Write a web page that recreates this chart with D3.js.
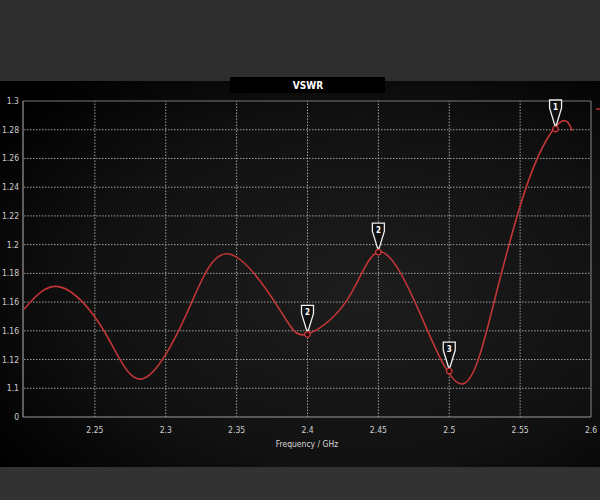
<!DOCTYPE html>
<html><head><meta charset="utf-8">
<script src="https://cdn.jsdelivr.net/npm/d3@7"></script>
<style>html,body{margin:0;padding:0;background:#2f2f2f;}svg{display:block;}</style>
</head><body>
<svg id="c" width="600" height="500"></svg>
<script>
const freq = [2.200,2.2254,2.257,2.2832,2.315,2.344,2.3805,2.399,2.428,2.451,2.479,2.5089,2.532,2.5568,2.578,2.5867];
const vswr = [1.155,1.1706,1.139,1.1065,1.1525,1.1936,1.1546,1.1375,1.1615,1.195,1.153,1.103,1.1615,1.247,1.285,1.2793];
const markerFreq = [2.4,2.45,2.5,2.575];
const markerVal = [1.1375,1.1948,1.112,1.2805];
const markerLabel = ["2","2","3","1"];
const xTicks = [2.25,2.3,2.35,2.4,2.45,2.5,2.55,2.6];
const xTickLabels = ["2.25","2.3","2.35","2.4","2.45","2.5","2.55","2.6"];
const yTicks = [1.08,1.10,1.12,1.14,1.16,1.18,1.20,1.22,1.24,1.26,1.28,1.30];
const yTickLabels = ["0","1.1","1.12","1.16","1.16","1.18","1.2","1.22","1.24","1.26","1.28","1.3"];

const svg = d3.select("#c");
const defs = svg.append("defs");
const rg = defs.append("radialGradient").attr("id","bg").attr("cx","0.6").attr("cy","0.55").attr("r","0.75");
rg.append("stop").attr("offset","0").attr("stop-color","#1d1d1d");
rg.append("stop").attr("offset","0.6").attr("stop-color","#111");
rg.append("stop").attr("offset","1").attr("stop-color","#000");

svg.append("rect").attr("x",0).attr("y",0).attr("width",600).attr("height",81).attr("fill","#2e2e2e");
svg.append("rect").attr("x",0).attr("y",81).attr("width",600).attr("height",386).attr("fill","url(#bg)");
svg.append("rect").attr("x",0).attr("y",467).attr("width",600).attr("height",33).attr("fill","#323232");

const x = d3.scaleLinear().domain([2.2,2.6]).range([24,591]);
const y = d3.scaleLinear().domain([1.08,1.30]).range([417,101]);

const font = "'DejaVu Sans Condensed','DejaVu Sans',sans-serif";

// title
svg.append("rect").attr("x",230).attr("y",77).attr("width",155).attr("height",16).attr("fill","#000");
svg.append("text").attr("x",308).attr("y",89).attr("text-anchor","middle").attr("fill","#fff")
  .attr("font-family",font).attr("font-weight","bold").attr("font-size",10).text("VSWR");

// grid
const g = svg.append("g");
g.selectAll(".hg").data(yTicks.slice(1,-1)).enter().append("line")
  .attr("x1",x(2.2)).attr("x2",x(2.6)).attr("y1",d=>y(d)).attr("y2",d=>y(d))
  .attr("stroke","#a0a0a0").attr("stroke-width",1).attr("stroke-dasharray","1.5,1.5");
g.selectAll(".vg").data(xTicks.slice(0,-1)).enter().append("line")
  .attr("x1",d=>x(d)).attr("x2",d=>x(d)).attr("y1",y(1.08)).attr("y2",y(1.3))
  .attr("stroke","#a0a0a0").attr("stroke-width",1).attr("stroke-dasharray","1.5,1.5");
// borders
g.append("line").attr("x1",x(2.2)-1).attr("x2",x(2.6)).attr("y1",y(1.3)).attr("y2",y(1.3)).attr("stroke","#777");
g.append("line").attr("x1",x(2.6)).attr("x2",x(2.6)).attr("y1",y(1.3)).attr("y2",y(1.08)).attr("stroke","#888");
g.append("line").attr("x1",x(2.2)-1).attr("x2",x(2.6)).attr("y1",y(1.08)).attr("y2",y(1.08)).attr("stroke","#999").attr("stroke-width",1.2);
g.append("line").attr("x1",x(2.2)-1).attr("x2",x(2.2)-1).attr("y1",y(1.3)).attr("y2",y(1.08)).attr("stroke","#999").attr("stroke-width",1.2);

// tick labels
svg.selectAll(".yl").data(yTicks).enter().append("text")
  .attr("x",19).attr("y",d=>y(d)+3).attr("text-anchor","end").attr("fill","#cfcfcf")
  .attr("font-family",font).attr("font-size",8.5).text((d,i)=>yTickLabels[i]);
svg.selectAll(".xl").data(xTicks).enter().append("text")
  .attr("x",d=>x(d)).attr("y",433).attr("text-anchor","middle").attr("fill","#cfcfcf")
  .attr("font-family",font).attr("font-size",8.5).text((d,i)=>xTickLabels[i]);
svg.append("text").attr("x",307).attr("y",447).attr("text-anchor","middle").attr("fill","#d8d8d8")
  .attr("font-family",font).attr("font-size",8.5).text("Frequency / GHz");

// legend stub at right edge
svg.append("line").attr("x1",596).attr("x2",600).attr("y1",109).attr("y2",109).attr("stroke","#c03030").attr("stroke-width",1.5);

// curve
const line = d3.line().x((d,i)=>x(freq[i])).y(d=>y(d)).curve(d3.curveNatural);
svg.append("path").datum(vswr).attr("d",line).attr("fill","none").attr("stroke","#c03535").attr("stroke-width",1.6);

// markers
const mk = svg.selectAll(".mk").data(markerFreq).enter().append("g")
  .attr("transform",(d,i)=>`translate(${x(d)},${y(markerVal[i])})`);
mk.append("circle").attr("r",2.8).attr("fill","#2a0808").attr("stroke","#d04040").attr("stroke-width",1.2);
mk.append("path").attr("d","M-6,-29 L6,-29 L6,-21 L0.8,-4 L-0.8,-4 L-6,-21 Z")
  .attr("fill","#111").attr("stroke","#f0f0f0").attr("stroke-width",1.3);
mk.append("text").attr("x",0).attr("y",-19).attr("text-anchor","middle").attr("fill","#fff")
  .attr("font-family",font).attr("font-weight","bold").attr("font-size",8).text((d,i)=>markerLabel[i]);
</script>
</body></html>
